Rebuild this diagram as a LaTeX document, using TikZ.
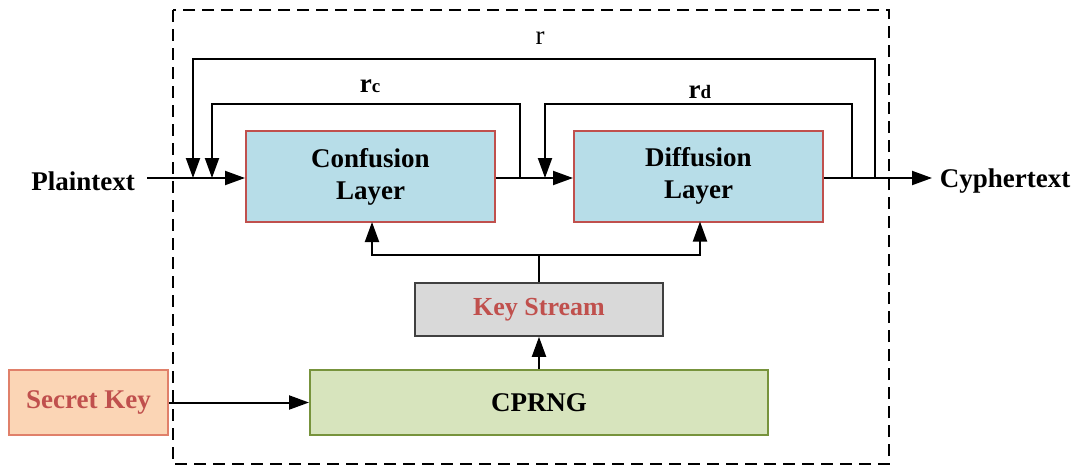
\documentclass[tikz,border=0pt]{standalone}
\usepackage{fontspec}
\setmainfont{Liberation Serif}
\usetikzlibrary{arrows.meta}
\definecolor{boxred}{HTML}{C0504D}
\definecolor{layerfill}{HTML}{B7DDE8}
\definecolor{ksfill}{HTML}{D9D9D9}
\definecolor{ksdraw}{HTML}{404040}
\definecolor{cpfill}{HTML}{D7E4BD}
\definecolor{cpdraw}{HTML}{77933C}
\definecolor{skfill}{HTML}{FBD5B5}
\definecolor{skdraw}{HTML}{E0806A}
\begin{document}
\begin{tikzpicture}[x=1pt,y=-1pt,
  every node/.style={font=\fontsize{27}{30}\selectfont\bfseries},
  layer/.style={draw=boxred,fill=layerfill,line width=2pt,minimum width=249pt,minimum height=91pt,align=center,inner sep=0pt,font=\fontsize{27}{32}\selectfont\bfseries},
  conn/.style={line width=2pt},
  arr/.style={conn,-{Triangle[length=20pt,width=14pt]}},
  lbl/.style={inner sep=0pt}]
\useasboundingbox (0,0) rectangle (1076,469);
\draw[line width=2pt,dash pattern=on 12pt off 7pt] (173,10) rectangle (889,464);
\node[layer] (conf) at (370.5,176.5) {Confusion\\Layer};
\node[layer] (diff) at (698.5,176) {Diffusion\\Layer};
\node[draw=ksdraw,fill=ksfill,line width=1.6pt,minimum width=248pt,minimum height=53pt,text=boxred,inner sep=0pt,font=\fontsize{26}{30}\selectfont\bfseries] (ks) at (539,309.5) {Key Stream};
\node[draw=cpdraw,fill=cpfill,line width=2pt,minimum width=458pt,minimum height=65pt,inner sep=0pt] (cp) at (539,402.5) {CPRNG};
\node[draw=skdraw,fill=skfill,line width=1.6pt,minimum width=159pt,minimum height=65pt,text=boxred,inner sep=0pt] (sk) at (88.5,402.5) {Secret Key};
\node[lbl] (pt) at (83,181) {Plaintext};
\node[lbl] (ct) at (1005,181) {Cyphertext};
\node[lbl,font=\fontsize{27}{30}\selectfont] (lr) at (540,38) {r};
\node[lbl,anchor=base] (lrc) at (370,92) {r\fontsize{19}{22}\selectfont c};
\node[lbl,anchor=base] (lrd) at (700,98) {r\fontsize{19}{22}\selectfont d};
\coordinate (pin) at (147,178);
\coordinate (cout) at (932,178);
\coordinate (rtap) at (875,178);
\coordinate (rdtap) at (852,178);
\coordinate (rctap) at (520,178);
\coordinate (ktop) at (539,255);
% main line
\draw[arr] (pin) -- (conf.west |- pin);
\draw[arr] (conf.east |- pin) -- (diff.west |- pin);
\draw[arr] (diff.east |- pin) -- (cout);
% feedback loops
\draw[arr] (rtap) -- (875,59) -- (193,59) -- (193,178);
\draw[arr] (rctap) -- (520,104) -- (212,104) -- (212,178);
\draw[arr] (rdtap) -- (852,104) -- (545,104) -- (545,178);
% key stream distribution
\draw[conn] (ks.north) -- (ktop);
\draw[arr] (ktop) -- (372,255) -- (372,222);
\draw[arr] (ktop) -- (700,255) -- (700,221.5);
\draw[arr] (cp.north) -- (ks.south);
\draw[arr] (sk.east) -- (cp.west);
\end{tikzpicture}
\end{document}
